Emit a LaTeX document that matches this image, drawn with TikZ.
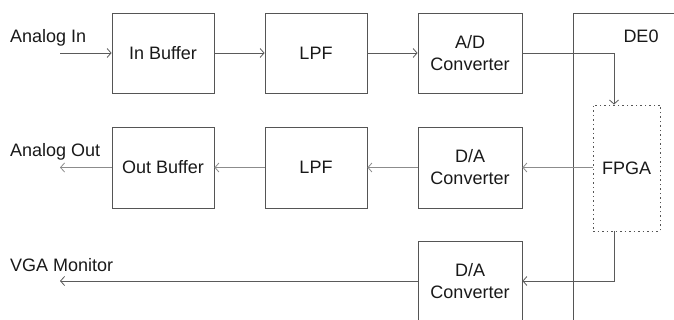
\documentclass[tikz,border=0pt]{standalone}
\usepackage{fontspec}
\setmainfont{Liberation Sans}
\usetikzlibrary{arrows.meta,positioning,calc}
\definecolor{boxgray}{HTML}{555555}
\definecolor{linegray}{HTML}{5A5A5A}
\definecolor{lightline}{HTML}{8C8C8C}
\begin{document}
\begin{tikzpicture}[x=1pt,y=1pt,
  every node/.style={font=\fontsize{18}{22}\selectfont, text=black!90},
  blk/.style={draw=boxgray, line width=0.8pt, minimum width=102pt, minimum height=80pt, inner sep=0pt, align=center},
  conn/.style={draw=linegray, line width=0.8pt, -{Straight Barb[length=4pt,width=9pt]}},
  lconn/.style={conn, draw=lightline},
  lbl/.style={anchor=base west, inner sep=0pt}]
\useasboundingbox (0,0) rectangle (674,-320);
\begin{scope}
\clip (0,0) rectangle (674,-320);
% DE0 board outline
\draw[boxgray, line width=0.8pt] (573,-340) -- (573,-13) -- (700,-13);
\node[anchor=center, inner sep=0pt] (de0) at (641,-36) {DE0};
% row 1
\node[blk] (inbuf) at (163,-53) {In Buffer};
\node[blk] (lpfa) at (316,-53) {LPF};
\node[blk, minimum width=104pt] (ad) at (470,-53) {A/D\\Converter};
% FPGA
\node[draw=boxgray, dash pattern=on 1.5pt off 3pt, line width=0.9pt, minimum width=67pt, minimum height=126pt, inner sep=0pt] (fpga) at (626.5,-168) {FPGA};
% row 2
\node[blk, minimum height=81pt] (outbuf) at (163,-167.5) {Out Buffer};
\node[blk, minimum height=81pt] (lpfb) at (316,-167.5) {LPF};
\node[blk, minimum width=104pt, minimum height=81pt] (daa) at (470,-167.5) {D/A\\Converter};
% row 3
\node[blk, minimum width=104pt] (dab) at (470,-281) {D/A\\Converter};
% labels
\node[lbl] (lin) at (10,-43) {Analog In};
\node[lbl] (lout) at (10,-157) {Analog Out};
\node[lbl] (lvga) at (10,-272) {VGA Monitor};
\coordinate (cin) at (60,-53);
\coordinate (cout) at (60,-167.5);
\coordinate (cvga) at (60,-281);
% connectors
\draw[conn] (cin) -- (inbuf.west);
\draw[conn] (inbuf) -- (lpfa);
\draw[conn] (lpfa) -- (ad);
\draw[conn] (ad.east) -| ([xshift=-12.5pt]fpga.north);
\draw[lconn] (fpga.west |- daa.east) -- (daa.east);
\draw[lconn] (daa) -- (lpfb);
\draw[lconn] (lpfb) -- (outbuf);
\draw[lconn] (outbuf.west) -- (cout);
\draw[conn] ([xshift=-12.5pt]fpga.south) |- (dab.east);
\draw[conn] (dab.west) -- (cvga);
\end{scope}
\end{tikzpicture}
\end{document}
